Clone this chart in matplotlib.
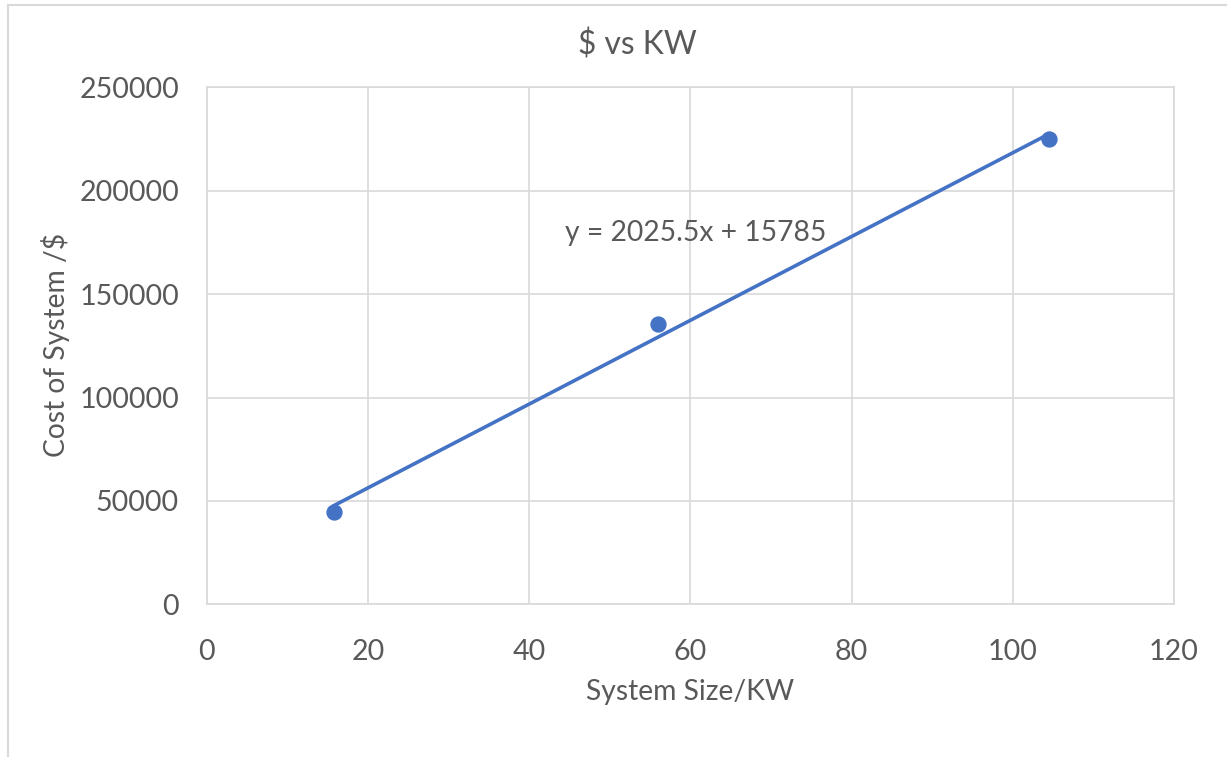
import numpy as np
import matplotlib.pyplot as plt

plt.rcParams['font.family'] = ['Lato', 'DejaVu Sans']

size_kw = [15.8, 56.0, 104.5]
cost = [44500, 135700, 224900]

# trendline from the chart label
slope = 2025.5
intercept = 15785

blue = '#4472c4'
grey = '#d9d9d9'
text_c = '#595959'

fig = plt.figure(figsize=(12.27, 7.57), dpi=100)
ax = fig.add_axes([0.1685, 0.2017, 0.7883, 0.683])

# chart border
fig.patches.append(plt.Rectangle((8 / 1227, -0.1), 1.2, 1 - 5 / 757 + 0.1,
                                 transform=fig.transFigure, fill=False,
                                 edgecolor=grey, linewidth=1.5))

xx = np.array([min(size_kw), max(size_kw)])
ax.plot(xx, slope * xx + intercept, color=blue, linewidth=2.6, zorder=3)
ax.scatter(size_kw, cost, color=blue, s=115, zorder=4)

ax.set_xlim(0, 120)
ax.set_ylim(0, 250000)
ax.set_xticks(range(0, 121, 20))
ax.set_yticks(range(0, 250001, 50000))
ax.grid(True, color=grey, linewidth=1.2)
ax.set_axisbelow(True)
for s in ax.spines.values():
    s.set_color(grey)
    s.set_linewidth(1.2)
ax.tick_params(length=0, labelsize=20.6, labelcolor=text_c)
ax.tick_params(axis='x', pad=25)
ax.tick_params(axis='y', pad=20)

ax.text(60.7, 179500, 'y = {}x + {}'.format(slope, intercept),
        fontsize=20.3, color=text_c, va='center', ha='center')

fig.text(637 / 1227, 1 - 45 / 757, '$ vs KW', fontsize=22.9, color=text_c,
         ha='center', va='center')
fig.text(690 / 1227, 1 - 692 / 757, 'System Size/KW', fontsize=20.3,
         color=text_c, ha='center', va='center')
fig.text(55 / 1227, 1 - 345 / 757, 'Cost of System /$', fontsize=20.3,
         color=text_c, ha='center', va='center', rotation=90)

fig.savefig('out.png')
